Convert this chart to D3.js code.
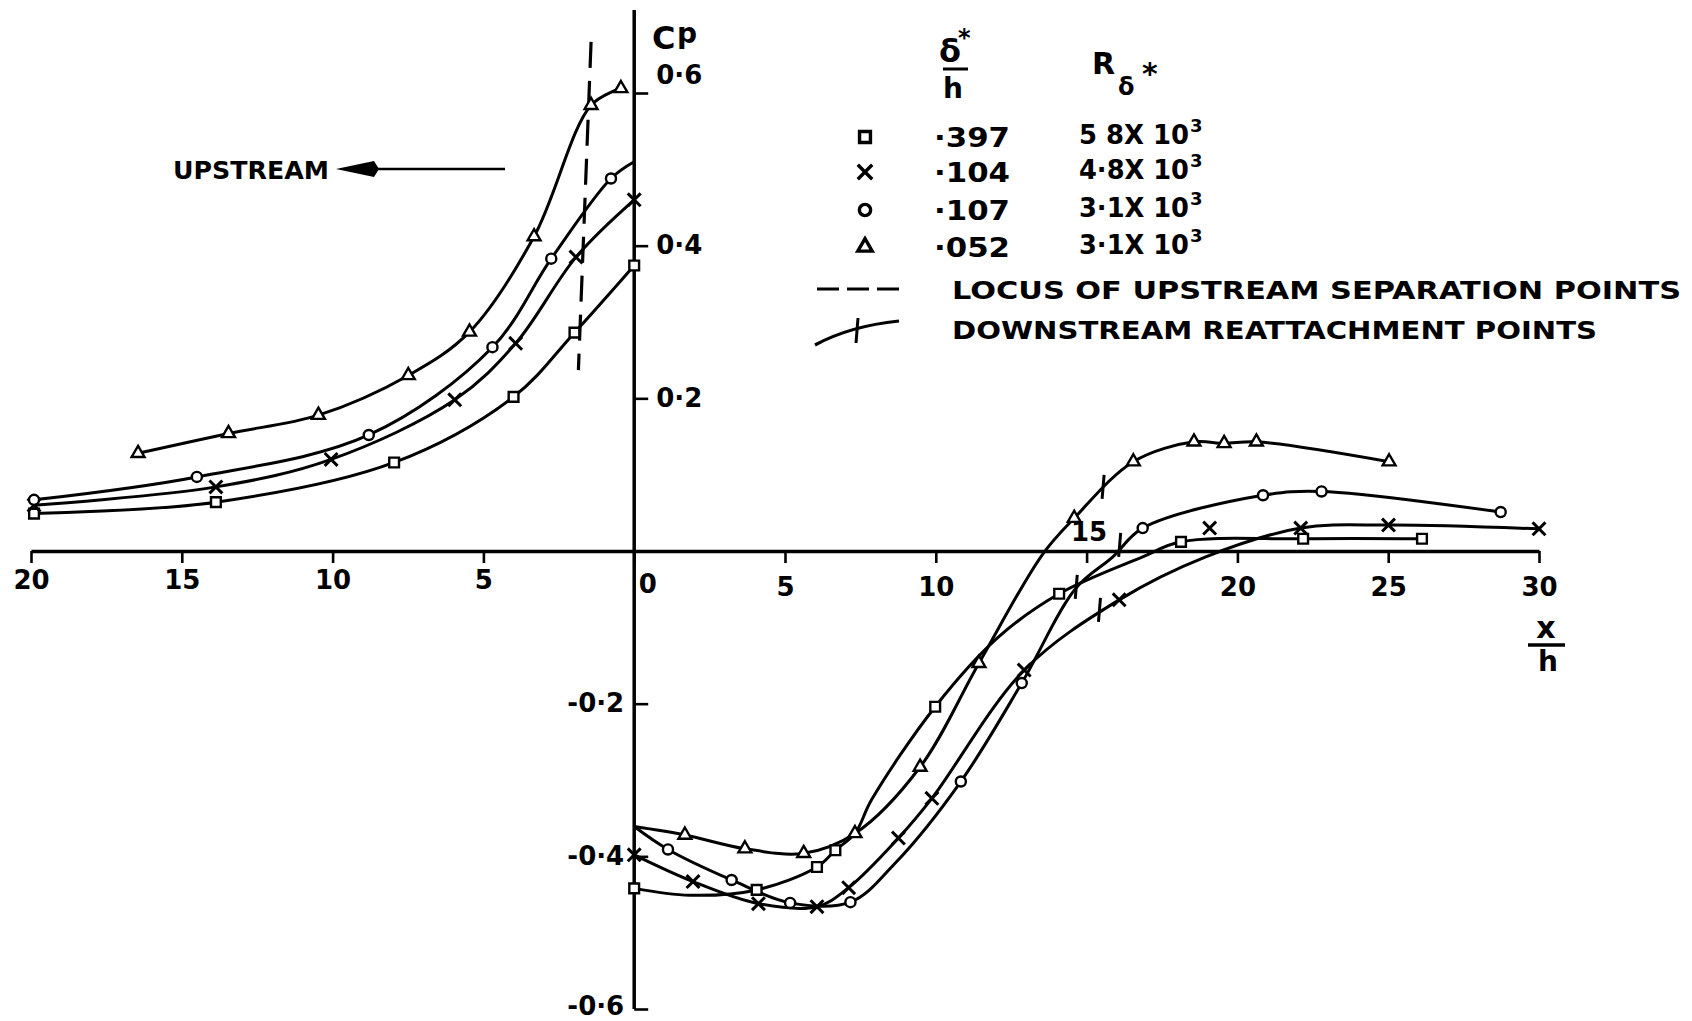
<!DOCTYPE html>
<html>
<head>
<meta charset="utf-8">
<title>Pressure distribution round a step</title>
<script src="https://cdn.jsdelivr.net/npm/d3@7/dist/d3.min.js"></script>
<style>
  body { margin: 0; background: #fff; }
  svg { display: block; }
  text { font-family: "DejaVu Sans", sans-serif; font-weight: bold; fill: #000; }
</style>
</head>
<body>
<svg id="chart" width="1692" height="1021"></svg>
<script>
'use strict';

// x/h : negative = upstream of the step, positive = downstream
var xTickValues = [-20, -15, -10, -5, 0, 5, 10, 15, 20, 25, 30];
var yTickValues = [0.6, 0.4, 0.2, -0.2, -0.4, -0.6];

// legend table
var legendKinds = ['square', 'cross', 'circle', 'triangle'];
var deltaOverH = ['·397', '·104', '·107', '·052'];
var reynolds = ['5 8X 10', '4·8X 10', '3·1X 10', '3·1X 10'];

// [x/h, Cp, 1 = plotted point, 0 = faired curve only]
var squareUp = [[-19.9, 0.049, 1], [-13.87, 0.064, 1], [-7.96, 0.116, 1], [-4.0, 0.202, 1],
    [-1.98, 0.286, 1], [0, 0.374, 1]];
var crossUp = [[-19.9, 0.060, 1], [-13.87, 0.084, 1], [-10.05, 0.120, 1], [-5.95, 0.198, 1],
    [-3.93, 0.272, 1], [-1.93, 0.385, 1], [0, 0.460, 1]];
var circleUp = [[-19.9, 0.067, 1], [-14.5, 0.097, 1], [-8.8, 0.152, 1], [-4.7, 0.267, 1],
    [-2.75, 0.383, 1], [-0.77, 0.488, 1], [0, 0.510, 0]];
var triangleUp = [[-16.45, 0.128, 1], [-13.45, 0.154, 1], [-10.47, 0.178, 1], [-7.49, 0.230, 1],
    [-5.46, 0.287, 1], [-3.32, 0.412, 1], [-1.43, 0.584, 1], [-0.44, 0.606, 1]];

var squareDown = [[0, -0.442, 1], [1.84, -0.451, 0], [4.06, -0.444, 1], [6.06, -0.414, 1],
    [6.67, -0.392, 1], [7.32, -0.370, 0], [7.87, -0.326, 0], [9.98, -0.204, 1], [12.1, -0.112, 0],
    [14.09, -0.056, 1], [16.84, -0.008, 0], [18.13, 0.012, 1], [22.18, 0.016, 1], [26.12, 0.016, 1]];
var crossDown = [[0, -0.398, 1], [1.95, -0.433, 1], [4.12, -0.462, 1], [6.06, -0.466, 1],
    [7.11, -0.441, 1], [8.76, -0.376, 1], [9.87, -0.324, 1], [12.93, -0.156, 1], [16.08, -0.064, 1],
    [18.93, -0.008, 0], [22.1, 0.030, 1], [25.01, 0.034, 1], [30.0, 0.029, 1]];
var circleDown = [[0, -0.361, 0], [1.12, -0.391, 1], [3.23, -0.431, 1], [5.17, -0.461, 1],
    [7.17, -0.460, 1], [8.65, -0.409, 0], [10.83, -0.302, 1], [12.85, -0.173, 1], [14.64, -0.049, 0],
    [15.86, -0.008, 0], [16.86, 0.030, 1], [20.85, 0.073, 1], [22.79, 0.078, 1], [28.73, 0.051, 1]];
var triangleDown = [[0, -0.361, 0], [1.68, -0.372, 1], [3.67, -0.390, 1], [5.62, -0.396, 1],
    [7.32, -0.370, 1], [9.48, -0.283, 1], [11.43, -0.147, 1], [13.53, -0.005, 0], [14.59, 0.043, 1],
    [16.55, 0.117, 1], [18.56, 0.143, 1], [19.56, 0.141, 1], [20.63, 0.143, 1], [25.03, 0.117, 1]];

// cross plotted off its curve
var strayCross = [[19.08, 0.030]];
// downstream reattachment points (triangle, circle, square, cross)
var reattachPoints = [[15.58, 0.084], [16.13, 0.008], [14.69, -0.047], [15.46, -0.077]];
// locus of upstream separation points (top, bottom)
var separationLocus = [[-1.43, 0.667], [-1.85, 0.237]];

var svg = d3.select('#chart');
svg.append('rect').attr('width', 1692).attr('height', 1021).attr('fill', '#fff');

var x = d3.scaleLinear().domain([-20, 30]).range([31, 1539]);
var y = d3.scaleLinear().domain([-0.6, 0.6]).range([1009, 93]);

var shapes = {
    square: d3.symbolSquare,
    cross: d3.symbolX,
    circle: d3.symbolCircle,
    triangle: d3.symbolTriangle
};
var shapeSize = {square: 95, cross: 110, circle: 80, triangle: 72};

var marker = function (sel, kind, scale) {
    return sel.append('path')
        .attr('d', d3.symbol().type(shapes[kind]).size(shapeSize[kind] * (scale || 1))())
        .attr('fill', '#fff')
        .attr('stroke', '#000')
        .attr('stroke-width', kind === 'cross' ? 3 : 2.4);
};

// axes
var xAxis = d3.axisBottom(x)
    .tickValues(xTickValues)
    .tickSize(12)
    .tickSizeOuter(0)
    .tickPadding(13)
    .tickFormat(function (d) { return Math.abs(d); });

var gx = svg.append('g')
    .attr('transform', 'translate(0,' + y(0) + ')')
    .call(xAxis)
    .attr('font-family', null)
    .attr('font-size', 26);
gx.select('.domain').attr('stroke-width', 3.5);
gx.selectAll('.tick line').attr('stroke-width', 2.6);
// hand lettering sits a little higher on the upstream side
gx.selectAll('.tick text').filter(function (d) { return d < 0; }).attr('y', 20);
gx.selectAll('.tick text').filter(function (d) { return d > 0; }).attr('y', 27);
gx.selectAll('.tick text').filter(function (d) { return d === 0; }).attr('dx', 13).attr('y', 24);
gx.selectAll('.tick text').filter(function (d) { return d === 15; })
    .attr('y', -28).attr('dx', 2);

var yAxis = d3.axisRight(y)
    .tickValues(yTickValues)
    .tickSize(14)
    .tickPadding(8)
    .tickFormat(function (d) {
        return (d < 0 ? '-' : '') + '0·' + Math.round(Math.abs(d) * 10);
    });

var gy = svg.append('g')
    .attr('transform', 'translate(' + x(0) + ',0)')
    .call(yAxis)
    .attr('font-family', null)
    .attr('font-size', 26);
gy.select('.domain').remove();
gy.selectAll('.tick line').attr('stroke-width', 2.6);
gy.selectAll('.tick text').filter(function (d) { return d < 0; })
    .attr('x', -10).attr('text-anchor', 'end');
gy.selectAll('.tick text').filter(function (d) { return d === 0.6; })
    .attr('y', -18);
gy.selectAll('.tick text').filter(function (d) { return d === -0.6; })
    .attr('y', -3);

svg.append('line')
    .attr('x1', x(0)).attr('x2', x(0))
    .attr('y1', 10).attr('y2', y(-0.6))
    .attr('stroke', '#000').attr('stroke-width', 3.5);

// axis titles
svg.append('text').attr('x', 652).attr('y', 49).style('font-size', '32px').text('C');
svg.append('text').attr('x', 677).attr('y', 43).style('font-size', '28px').text('p');

svg.append('text').attr('x', 1546).attr('y', 638).attr('text-anchor', 'middle')
    .style('font-size', '30px').text('x');
svg.append('line').attr('x1', 1528).attr('x2', 1565).attr('y1', 645).attr('y2', 645)
    .attr('stroke', '#000').attr('stroke-width', 3.5);
svg.append('text').attr('x', 1548).attr('y', 671).attr('text-anchor', 'middle')
    .style('font-size', '28px').text('h');

// curves
var line = d3.line()
    .x(function (d) { return x(d[0]); })
    .y(function (d) { return y(d[1]); })
    .curve(d3.curveCatmullRom.alpha(0.5));

var curveSets = [
    {kind: 'square', pts: squareUp}, {kind: 'cross', pts: crossUp},
    {kind: 'circle', pts: circleUp}, {kind: 'triangle', pts: triangleUp},
    {kind: 'square', pts: squareDown}, {kind: 'cross', pts: crossDown},
    {kind: 'circle', pts: circleDown}, {kind: 'triangle', pts: triangleDown}
];

var gCurves = svg.append('g').attr('class', 'curves');
curveSets.forEach(function (c) {
    gCurves.append('path')
        .attr('d', line(c.pts))
        .attr('fill', 'none')
        .attr('stroke', '#000')
        .attr('stroke-width', 3)
        .attr('stroke-linejoin', 'round');
});

// separation locus
svg.append('line')
    .attr('x1', x(separationLocus[0][0])).attr('y1', y(separationLocus[0][1]))
    .attr('x2', x(separationLocus[1][0])).attr('y2', y(separationLocus[1][1]))
    .attr('stroke', '#000').attr('stroke-width', 3.2)
    .attr('stroke-dasharray', '26,13');

// reattachment ticks
svg.selectAll('line.reattach')
    .data(reattachPoints)
    .enter()
    .append('line')
    .attr('class', 'reattach')
    .attr('x1', function (d) { return x(d[0]); })
    .attr('x2', function (d) { return x(d[0]) - 2; })
    .attr('y1', function (d) { return y(d[1]) - 12; })
    .attr('y2', function (d) { return y(d[1]) + 12; })
    .attr('stroke', '#000').attr('stroke-width', 3);

// markers
var gMarks = svg.append('g').attr('class', 'markers');
curveSets.forEach(function (c) {
    c.pts.filter(function (p) { return p[2] === 1; }).forEach(function (p) {
        marker(gMarks, c.kind).attr('transform', 'translate(' + x(p[0]) + ',' + y(p[1]) + ')');
    });
});
strayCross.forEach(function (p) {
    marker(gMarks, 'cross').attr('transform', 'translate(' + x(p[0]) + ',' + y(p[1]) + ')');
});

// upstream label
svg.append('text').attr('x', 173).attr('y', 179).attr('textLength', 156)
    .attr('lengthAdjust', 'spacingAndGlyphs').style('font-size', '24px').text('UPSTREAM');
svg.append('line').attr('x1', 362).attr('x2', 505).attr('y1', 169).attr('y2', 169)
    .attr('stroke', '#000').attr('stroke-width', 2.6);
svg.append('path').attr('d', 'M336,169 L374,161 L379,169 L374,177 Z').attr('fill', '#000');

// legend
var lg = svg.append('g').attr('class', 'legend');
lg.append('text').attr('x', 939).attr('y', 62).style('font-size', '32px').text('δ');
lg.append('text').attr('x', 958).attr('y', 46).style('font-size', '24px').text('*');
lg.append('line').attr('x1', 943).attr('x2', 968).attr('y1', 69).attr('y2', 69)
    .attr('stroke', '#000').attr('stroke-width', 3);
lg.append('text').attr('x', 943).attr('y', 98).style('font-size', '28px').text('h');

lg.append('text').attr('x', 1092).attr('y', 74).style('font-size', '30px').text('R');
lg.append('text').attr('x', 1118).attr('y', 95).style('font-size', '24px').text('δ');
lg.append('text').attr('x', 1142).attr('y', 84).style('font-size', '30px').text('*');

var rowY = [137, 172, 210, 247];
legendKinds.forEach(function (k, i) {
    marker(lg, k, 1.25).attr('stroke-width', 3.4)
        .attr('transform', 'translate(865,' + rowY[i] + ')');
    lg.append('text').attr('x', 934).attr('y', rowY[i] + 10)
        .attr('textLength', 76).attr('lengthAdjust', 'spacingAndGlyphs')
        .style('font-size', '26px').text(deltaOverH[i]);
    lg.append('text').attr('x', 1079).attr('y', rowY[i] + 7)
        .attr('textLength', 110).attr('lengthAdjust', 'spacingAndGlyphs')
        .style('font-size', '26px').text(reynolds[i]);
    lg.append('text').attr('x', 1190).attr('y', rowY[i] - 5)
        .style('font-size', '18px').text('3');
});

lg.append('line').attr('x1', 817).attr('x2', 899).attr('y1', 289).attr('y2', 289)
    .attr('stroke', '#000').attr('stroke-width', 3.2).attr('stroke-dasharray', '22,8');
lg.append('text').attr('x', 952).attr('y', 299).attr('textLength', 729)
    .attr('lengthAdjust', 'spacingAndGlyphs').style('font-size', '25px')
    .text('LOCUS OF UPSTREAM SEPARATION POINTS');

lg.append('path').attr('d', 'M815,345 Q850,326 899,321').attr('fill', 'none')
    .attr('stroke', '#000').attr('stroke-width', 3.2);
lg.append('line').attr('x1', 858).attr('x2', 856).attr('y1', 318).attr('y2', 343)
    .attr('stroke', '#000').attr('stroke-width', 3);
lg.append('text').attr('x', 952).attr('y', 339).attr('textLength', 645)
    .attr('lengthAdjust', 'spacingAndGlyphs').style('font-size', '25px')
    .text('DOWNSTREAM REATTACHMENT POINTS');
</script>
</body>
</html>
